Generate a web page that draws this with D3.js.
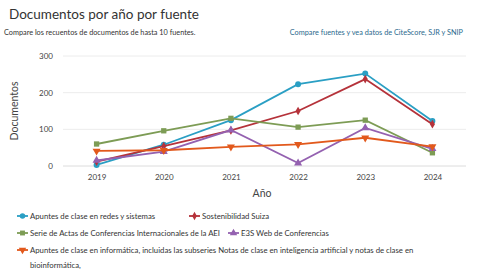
<!DOCTYPE html>
<html>
<head>
<meta charset="utf-8">
<script src="https://cdn.jsdelivr.net/npm/d3@7"></script>
<style>
  body { margin: 0; background: #fff; }
  text { font-family: Lato, "Open Sans", sans-serif; }
</style>
</head>
<body>
<div id="chart"></div>
<script>
const years = ['2019', '2020', '2021', '2022', '2023', '2024'];
const yTicks = [0, 100, 200, 300];

const seriesNames = [
    'Apuntes de clase en redes y sistemas',
    'Sostenibilidad Suiza',
    'Serie de Actas de Conferencias Internacionales de la AEI',
    'E3S Web de Conferencias',
    'Apuntes de clase en informática, incluidas las subseries Notas de clase en inteligencia artificial y notas de clase en bioinformática,'
];
const redesValues = [3, 58, 125, 223, 252, 123];
const suizaValues = [12, 54, 97, 150, 237, 114];
const aeiValues = [60, 96, 130, 106, 125, 36];
const e3sValues = [15, 39, 98, 8, 104, 47];
const informaticaValues = [41, 43, 52, 59, 77, 53];

const seriesValues = [redesValues, suizaValues, aeiValues, e3sValues, informaticaValues];
const colors = ['#2a9fc4', '#b5323a', '#7d9c55', '#9461b0', '#e2591c'];
const symbols = [d3.symbolCircle, d3.symbolDiamond, d3.symbolSquare, d3.symbolTriangle, d3.symbolTriangle];
const rotations = [0, 0, 0, 0, 180];

const width = 484;
const height = 276;
const margin = { top: 56, right: 18, bottom: 110, left: 63 };

const svg = d3.select('#chart')
    .append('svg')
    .attr('width', width)
    .attr('height', height);

// Header texts
svg.append('text')
    .attr('x', 9)
    .attr('y', 19)
    .attr('font-size', 13.5)
    .attr('fill', '#333')
    .text('Documentos por año por fuente');

svg.append('text')
    .attr('x', 4)
    .attr('y', 35)
    .attr('font-size', 7.3)
    .attr('fill', '#333')
    .text('Compare los recuentos de documentos de hasta 10 fuentes.');

svg.append('text')
    .attr('x', 463)
    .attr('y', 35)
    .attr('font-size', 7.3)
    .attr('text-anchor', 'end')
    .attr('fill', '#2b6a8e')
    .text('Compare fuentes y vea datos de CiteScore, SJR y SNIP');

// Scales
const xScale = d3.scalePoint()
    .domain(years)
    .range([margin.left, width - margin.right])
    .padding(0.5);

const yScale = d3.scaleLinear()
    .domain([0, 300])
    .range([height - margin.bottom, margin.top]);

// Grid lines
svg.append('g')
    .selectAll('line')
    .data(yTicks)
    .join('line')
    .attr('x1', margin.left)
    .attr('x2', width - margin.right)
    .attr('y1', d => yScale(d))
    .attr('y2', d => yScale(d))
    .attr('stroke', d => d === 0 ? '#dcdcdc' : '#ececec')
    .attr('stroke-width', 1);

// Y axis
const yAxis = d3.axisLeft(yScale).tickValues(yTicks).tickSize(0).tickPadding(10);
svg.append('g')
    .attr('transform', `translate(${margin.left}, 0)`)
    .call(yAxis)
    .call(g => g.select('.domain').remove())
    .call(g => g.selectAll('text')
        .attr('font-size', 8)
        .attr('fill', '#444')
        .style('font-family', 'Lato, sans-serif'));

// X axis
const xAxis = d3.axisBottom(xScale).tickSize(0).tickPadding(8);
svg.append('g')
    .attr('transform', `translate(0, ${height - margin.bottom})`)
    .call(xAxis)
    .call(g => g.select('.domain').remove())
    .call(g => g.selectAll('text')
        .attr('font-size', 8)
        .attr('fill', '#444')
        .style('font-family', 'Lato, sans-serif'));

// Axis titles
svg.append('text')
    .attr('transform', 'rotate(-90)')
    .attr('x', -111)
    .attr('y', 18)
    .attr('text-anchor', 'middle')
    .attr('font-size', 10.5)
    .attr('fill', '#444')
    .text('Documentos');

svg.append('text')
    .attr('x', 262)
    .attr('y', 197)
    .attr('text-anchor', 'middle')
    .attr('font-size', 10.5)
    .attr('fill', '#444')
    .text('Año');

// Lines and markers
const line = d3.line()
    .x((d, i) => xScale(years[i]))
    .y(d => yScale(d));

seriesValues.forEach((vals, s) => {
    svg.append('path')
        .datum(vals)
        .attr('fill', 'none')
        .attr('stroke', colors[s])
        .attr('stroke-width', 1.8)
        .attr('d', line);

    svg.append('g')
        .selectAll('path')
        .data(vals)
        .join('path')
        .attr('d', d3.symbol().type(symbols[s]).size(s === 1 ? 22 : 28))
        .attr('transform', (d, i) => `translate(${xScale(years[i])}, ${yScale(d)}) rotate(${rotations[s]})`)
        .attr('fill', colors[s]);
});

// Legend
const legendItems = [
    { s: 0, x: 17, y: 216, lines: [seriesNames[0]] },
    { s: 1, x: 189, y: 216, lines: [seriesNames[1]] },
    { s: 2, x: 17, y: 233, lines: [seriesNames[2]] },
    { s: 3, x: 228, y: 233, lines: [seriesNames[3]] },
    { s: 4, x: 17, y: 250, lines: [
        'Apuntes de clase en informática, incluidas las subseries Notas de clase en inteligencia artificial y notas de clase en',
        'bioinformática,'] }
];

const legend = svg.append('g');
legendItems.forEach(item => {
    const g = legend.append('g')
        .attr('transform', `translate(${item.x}, ${item.y})`);
    g.append('line')
        .attr('x1', 0)
        .attr('x2', 11)
        .attr('stroke', colors[item.s])
        .attr('stroke-width', 1.8);
    g.append('path')
        .attr('d', d3.symbol().type(symbols[item.s]).size(item.s === 1 ? 20 : 24))
        .attr('transform', `translate(5.5, 0) rotate(${rotations[item.s]})`)
        .attr('fill', colors[item.s]);
    item.lines.forEach((t, i) => {
        g.append('text')
            .attr('x', 13)
            .attr('y', 3 + i * 15)
            .attr('font-size', 7.75)
            .attr('fill', '#333')
            .text(t);
    });
});
</script>
</body>
</html>
